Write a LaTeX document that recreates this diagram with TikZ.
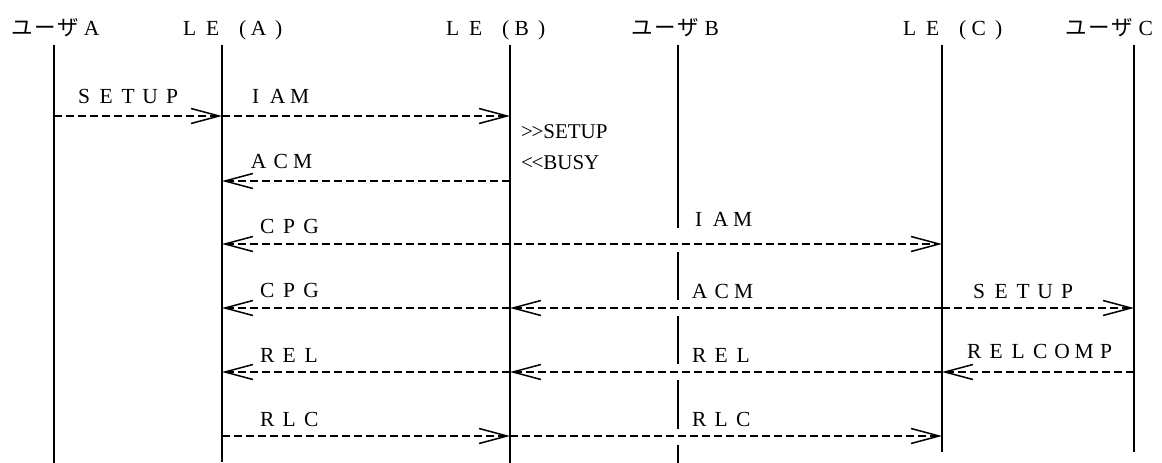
\documentclass[tikz,border=0pt]{standalone}
\usepackage{fontspec}
\setmainfont{Liberation Serif}
\newfontfamily\jpfont{Noto Sans CJK JP}
\usetikzlibrary{arrows.meta}
\newlength\fwp
\setlength\fwp{22pt}
\def\spacedaux#1{\ifx#1\relax\else\makebox[\fwp][c]{#1}\expandafter\spacedaux\fi}
\newcommand\spaced[1]{\spacedaux#1\relax}
\newcommand\hdrLE[1]{\makebox[23pt][c]{L}\makebox[23pt][c]{E}\makebox[23pt][r]{(\hspace{1pt}}\makebox[23pt][c]{#1}\makebox[23pt][l]{\hspace{5pt})}}
\newcommand\hdrU[1]{\makebox[23pt][c]{\jpfont ユ}\makebox[23pt][c]{\jpfont ー}\makebox[23pt][c]{\jpfont ザ}\makebox[23pt][c]{#1}}
\begin{document}
\begin{tikzpicture}[x=1pt,y=-1pt,
  life/.style={line width=1.6pt},
  msg/.style={line width=1.5pt, dash pattern=on 8pt off 4pt, -{Straight Barb[length=28pt,width=15pt]}},
  msgboth/.style={line width=1.5pt, dash pattern=on 8pt off 4pt, {Straight Barb[length=28pt,width=15pt]}-{Straight Barb[length=28pt,width=15pt]}},
  hdr/.style={anchor=base west, inner sep=0pt, font=\fontsize{21.5}{25}\selectfont},
  lbl/.style={anchor=base west, inner sep=0pt, font=\fontsize{21.5}{25}\selectfont},
  note/.style={anchor=base west, inner sep=0pt, font=\fontsize{21}{24}\selectfont}]
\fill[white] (0,0) rectangle (1162,463);
\useasboundingbox (0,0) rectangle (1162,463);

% headers
\node[hdr] (hUA) at (11,35) {\hdrU{A}};
\node[hdr] (hLEA) at (178,35) {\hdrLE{A}};
\node[hdr] (hLEB) at (441,35) {\hdrLE{B}};
\node[hdr] (hUB) at (631,35) {\hdrU{B}};
\node[hdr] (hLEC) at (898,35) {\hdrLE{C}};
\node[hdr] (hUC) at (1065,35) {\hdrU{C}};

% lifeline ends
\coordinate (uA-t) at (54,45);   \coordinate (uA-b) at (54,463);
\coordinate (leA-t) at (222,45); \coordinate (leA-b) at (222,462);
\coordinate (leB-t) at (510,45); \coordinate (leB-b) at (510,463);
\coordinate (leC-t) at (942,45); \coordinate (leC-b) at (942,452);
\coordinate (uC-t) at (1134,45); \coordinate (uC-b) at (1134,452);
\foreach \i/\a/\b in {1/45/228, 2/252/300, 3/316/364, 4/380/429, 5/445/463}{
  \coordinate (uB-s\i) at (678,\a);
  \coordinate (uB-e\i) at (678,\b);
}
\draw[life] (uA-t) -- (uA-b);
\draw[life] (leA-t) -- (leA-b);
\draw[life] (leB-t) -- (leB-b);
\draw[life] (leC-t) -- (leC-b);
\draw[life] (uC-t) -- (uC-b);
\foreach \i in {1,...,5}{\draw[life] (uB-s\i) -- (uB-e\i);}

% message end points
\foreach \r/\y in {1/116, 2/181, 3/244, 4/308, 5/372, 6/436}{
  \foreach \n/\x in {uA/54, leA/222, leB/510, leC/942, uC/1134}{
    \coordinate (\n-\r) at (\x,\y);
  }
}

% messages
\draw[msg] (uA-1) -- (leA-1);
\draw[msg] (leA-1) -- (leB-1);
\draw[msg] (leB-2) -- (leA-2);
\draw[msgboth] (leA-3) -- (leC-3);
\draw[msg] (leB-4) -- (leA-4);
\draw[msg] (leC-4) -- (leB-4);
\draw[msg] (leC-4) -- (uC-4);
\draw[msg] (leB-5) -- (leA-5);
\draw[msg] (leC-5) -- (leB-5);
\draw[msg] (uC-5) -- (leC-5);
\draw[msg] (leA-6) -- (leB-6);
\draw[msg] (leB-6) -- (leC-6);

% labels
\node[lbl] (t1a) at (73,103) {\spaced{SETUP}};
\node[lbl] (t1b) at (244.5,103) {\spaced{IAM}};
\node[lbl] (t2) at (247.5,168) {\spaced{ACM}};
\node[lbl] (t3a) at (256,233) {\spaced{CPG}};
\node[lbl] (t3b) at (687.5,226) {\spaced{IAM}};
\node[lbl] (t4a) at (256,297) {\spaced{CPG}};
\node[lbl] (t4b) at (688.5,298) {\spaced{ACM}};
\node[lbl] (t4c) at (968,298) {\spaced{SETUP}};
\node[lbl] (t5a) at (256,362) {\spaced{REL}};
\node[lbl] (t5b) at (688,362) {\spaced{REL}};
\node[lbl] (t5c) at (963,358) {\spaced{RELCOMP}};
\node[lbl] (t6a) at (256,426) {\spaced{RLC}};
\node[lbl] (t6b) at (688,426) {\spaced{RLC}};

% notes at LE(B)
\node[note] (n1) at (521,138) {>\kern-1.5pt>SETUP};
\node[note] (n2) at (521,169) {<\kern-1.5pt<BUSY};
\end{tikzpicture}
\end{document}
